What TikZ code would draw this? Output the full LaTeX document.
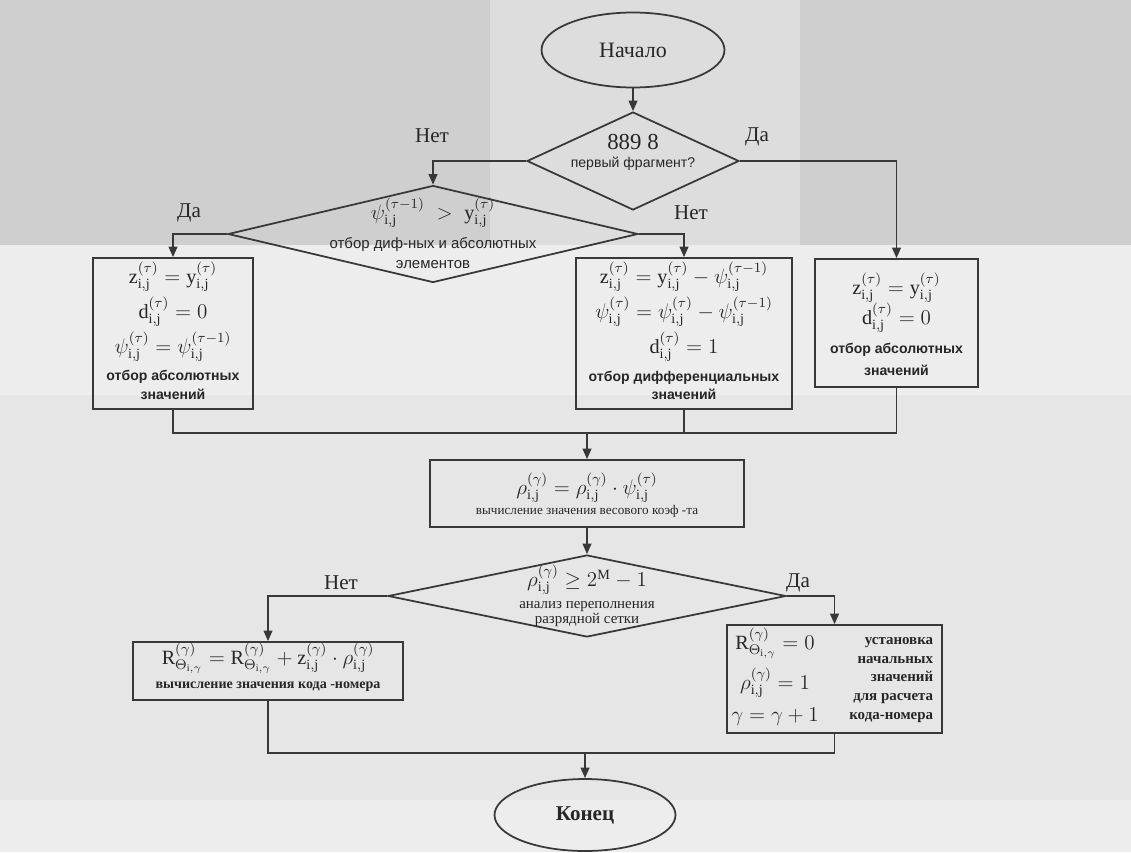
\documentclass[tikz,border=0pt]{standalone}
\usepackage{fontspec}
\setmainfont{Liberation Serif}
\setsansfont{Liberation Sans}
\usetikzlibrary{shapes.geometric,arrows.meta}
\definecolor{ink}{HTML}{262626}
\definecolor{lin}{HTML}{383838}
\definecolor{bgA}{HTML}{EDEDED}
\definecolor{bgB}{HTML}{CFCFCF}
\definecolor{bgC}{HTML}{DDDDDD}
\definecolor{bgD}{HTML}{E6E6E6}
\newcommand\vij[2]{\mathrm{#1}^{(#2)}_{\mathrm{i,j}}}
\newcommand\gij[2]{#1^{(#2)}_{\mathrm{i,j}}}
\newcommand\Rth{\mathrm{R}^{(\gamma)}_{\Theta_{\mathrm{i},\gamma}}}
\begin{document}
\begin{tikzpicture}[x=0.02cm,y=-0.02cm,
  line width=1pt, draw=lin, text=ink,
  flow/.style={-{Triangle[length=6pt,width=5pt]}, draw=lin, line width=1pt},
  link/.style={draw=lin, line width=1pt},
  term/.style={ellipse, draw=lin, line width=1pt, inner sep=0pt, font=\fontsize{12.5}{14}\selectfont},
  dia/.style={diamond, draw=lin, line width=1pt, inner sep=0pt},
  box/.style={rectangle, draw=lin, line width=1pt, inner sep=0pt},
  fm/.style={font=\fontsize{11.5}{13}\selectfont, inner sep=0pt},
  lab/.style={font=\sffamily\bfseries\fontsize{8}{10.5}\selectfont, align=center, inner sep=0pt},
  yn/.style={font=\fontsize{12}{14}\selectfont, inner sep=0pt}]
\path[use as bounding box] (0,0) rectangle (1131,852);
% background of the scan
\fill[bgA] (0,0) rectangle (1131,852);
\fill[bgB] (0,0) rectangle (1131,245);
\fill[bgC] (490,0) rectangle (800,245);
\fill[bgD] (0,395) rectangle (1131,800);

% shapes
\node[term, minimum width=3.66cm, minimum height=1.5cm] (start) at (633,50) {Начало};
\node[dia, minimum width=4.24cm, minimum height=1.96cm] (d1) at (633,161) {};
\node[dia, minimum width=8.2cm, minimum height=1.94cm] (d2) at (433,234) {};
\node[box, minimum width=3.2cm, minimum height=3.02cm] (b1) at (173,333.5) {};
\node[box, minimum width=4.32cm, minimum height=3.02cm] (b2) at (684,333.5) {};
\node[box, minimum width=3.26cm, minimum height=2.56cm] (b3) at (896.5,323) {};
\node[box, minimum width=6.28cm, minimum height=1.34cm] (b4) at (587,493.5) {};
\node[dia, minimum width=7.96cm, minimum height=1.64cm] (d3) at (587,596) {};
\node[box, minimum width=5.4cm, minimum height=1.16cm] (b5) at (268,671) {};
\node[box, minimum width=4.3cm, minimum height=2.16cm] (b6) at (834.5,679) {};
\node[term, font=\bfseries\fontsize{12}{14}\selectfont, minimum width=3.62cm, minimum height=1.44cm] (end) at (585,815) {Конец};

% texts: decision 1
\node[fm, font=\fontsize{13}{15}\selectfont] (t1a) at (633,142) {889 8};
\node[font=\sffamily\fontsize{8}{10}\selectfont, inner sep=0pt] (t1b) at (633,164) {первый фрагмент?};
% decision 2
\node[fm] (t2a) at (433,213) {$\gij{\psi}{\tau-1} \;>\; \vij{y}{\tau}$};
\node[font=\sffamily\fontsize{8.5}{11.5}\selectfont, align=center, inner sep=0pt] (t2b) at (433,253) {отбор диф-ных и абсолютных\\элементов};
% box 1
\node[fm] (t3a) at (173,277) {$\vij{z}{\tau} = \vij{y}{\tau}$};
\node[fm] (t3b) at (173,312) {$\vij{d}{\tau} = 0$};
\node[fm] (t3c) at (173,347) {$\gij{\psi}{\tau} = \gij{\psi}{\tau-1}$};
\node[lab] (t3d) at (173,385) {отбор абсолютных\\значений};
% box 2
\node[fm] (t4a) at (684,277) {$\vij{z}{\tau} = \vij{y}{\tau} - \gij{\psi}{\tau-1}$};
\node[fm] (t4b) at (684,312) {$\gij{\psi}{\tau} = \gij{\psi}{\tau} - \gij{\psi}{\tau-1}$};
\node[fm] (t4c) at (684,347) {$\vij{d}{\tau} = 1$};
\node[lab] (t4d) at (684,385.5) {отбор дифференциальных\\значений};
% box 3
\node[fm] (t5a) at (896.5,288) {$\vij{z}{\tau} = \vij{y}{\tau}$};
\node[fm] (t5b) at (896.5,318) {$\vij{d}{\tau} = 0$};
\node[lab, font=\sffamily\bfseries\fontsize{8}{12.5}\selectfont] (t5c) at (896.5,359) {отбор абсолютных\\значений};
% box 4
\node[fm] (t6a) at (587,488) {$\gij{\rho}{\gamma} = \gij{\rho}{\gamma}\cdot\gij{\psi}{\tau}$};
\node[font=\fontsize{7.5}{9}\selectfont, inner sep=0pt] (t6b) at (587,511) {вычисление значения весового коэф -та};
% decision 3
\node[fm] (t7a) at (587,580) {$\gij{\rho}{\gamma} \ge 2^{\mathrm{M}} - 1$};
\node[font=\fontsize{8.5}{8.5}\selectfont, align=center, inner sep=0pt] (t7b) at (587,614) {анализ переполнения\\разрядной сетки};
% box 5
\node[fm] (t8a) at (268,658) {$\Rth = \Rth + \vij{z}{\gamma}\cdot\gij{\rho}{\gamma}$};
\node[font=\bfseries\fontsize{8}{10}\selectfont, inner sep=0pt] (t8b) at (268,687) {вычисление значения кода -номера};
% box 6
\node[fm] (t9a) at (775,643) {$\Rth = 0$};
\node[fm] (t9b) at (775,683) {$\gij{\rho}{\gamma} = 1$};
\node[fm] (t9c) at (775,717) {$\gamma = \gamma + 1$};
\node[font=\bfseries\fontsize{8.5}{10.6}\selectfont, align=right, inner sep=0pt, anchor=east] (t9d) at (934,680) {установка\\начальных\\значений\\для расчета\\кода-номера};

% yes / no labels
\node[yn] (n1) at (432,136) {Нет};
\node[yn] (y1) at (757,137) {Да};
\node[yn] (y2) at (189,213) {Да};
\node[yn] (n2) at (691,213) {Нет};
\node[yn] (n3) at (341,583) {Нет};
\node[yn] (y3) at (798,583) {Да};

% connectors
\draw[flow] (start.south) -- (d1.north);
\draw[flow] (d1.west) -| (d2.north);
\draw[flow] (d1.east) -| (b3.north);
\draw[flow] (d2.west) -| (b1.north);
\draw[flow] (d2.east) -| (b2.north);
\coordinate (j1) at (587,433);
\draw[link] (b1.south) |- (j1) -| (b3.south);
\draw[link] (b2.south) -- (b2.south |- j1);
\draw[flow] (j1) -- (b4.north);
\draw[flow] (b4.south) -- (d3.north);
\draw[flow] (d3.west) -| (b5.north);
\draw[flow] (d3.east) -| (b6.north);
\coordinate (j2) at (585,753);
\draw[link] (b5.south) |- (j2) -| (b6.south);
\draw[flow] (j2) -- (end.north);
\end{tikzpicture}
\end{document}
